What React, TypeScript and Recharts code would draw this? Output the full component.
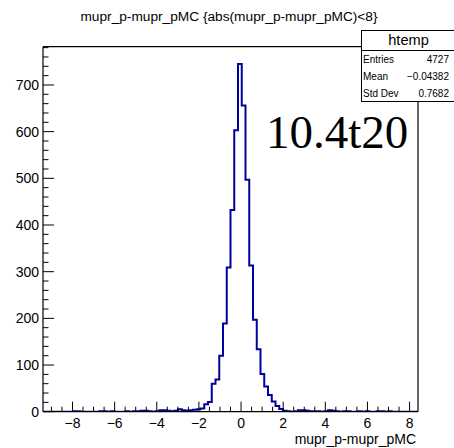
import React from "react";
import { LineChart, Line, XAxis, YAxis, ReferenceLine } from "recharts";

// histogram binning (ROOT htemp, 100 bins)
const xMin = -9.4;
const xMax = 8.4;
const binWidth = (xMax - xMin) / 100;

// bin contents, bin 0 .. bin 99
const counts: number[] = [
  0, 0, 0, 0, 0, 0, 0, 0, 1, 1,
  0, 0, 0, 0, 0, 1, 1, 0, 1, 0,
  0, 0, 1, 0, 1, 1, 2, 2, 1, 0,
  1, 3, 3, 2, 1, 2, 5, 3, 2, 3,
  4, 5, 7, 16, 21, 60, 69, 120, 189, 309,
  432, 603, 745, 656, 497, 313, 197, 134, 81, 54,
  36, 22, 12, 6, 2, 1, 0, 1, 3, 3,
  2, 1, 1, 1, 0, 1, 3, 2, 1, 0,
  1, 1, 0, 0, 1, 0, 1, 0, 0, 1,
  1, 0, 1, 0, 0, 0, 0, 0, 0, 0,
];

const xTicks: number[] = [
  -9, -8.5, -8, -7.5, -7, -6.5, -6, -5.5, -5, -4.5, -4, -3.5, -3, -2.5, -2, -1.5, -1, -0.5,
  0, 0.5, 1, 1.5, 2, 2.5, 3, 3.5, 4, 4.5, 5, 5.5, 6, 6.5, 7, 7.5, 8,
];
const yTicks: number[] = [
  0, 20, 40, 60, 80, 100, 120, 140, 160, 180, 200, 220, 240, 260, 280, 300, 320, 340, 360, 380,
  400, 420, 440, 460, 480, 500, 520, 540, 560, 580, 600, 620, 640, 660, 680, 700, 720, 740, 760, 780,
];
const yMax = 782;

const stats = [
  { label: "Entries", value: "4727" },
  { label: "Mean", value: "\u22120.04382" },
  { label: "Std Dev", value: "0.7682" },
];

const data = counts.map((c, i) => ({ x: xMin + i * binWidth, count: c }));
data.push({ x: xMax, count: 0 });

const font = "'Liberation Sans', Arial, Helvetica, sans-serif";

const fmt = (v: number) => (v < 0 ? "\u2212" + -v : String(v));

const XTick = (props: any) => {
  const { x, y, payload } = props;
  const v = payload.value;
  const major = Math.abs(v % 2) < 1e-6;
  return (
    <g>
      <line x1={x} x2={x} y1={y} y2={y - (major ? 10 : 5)} stroke="#000" strokeWidth={1} />
      {major && (
        <text x={x} y={y + 16} textAnchor="middle" fontSize={14} fontFamily={font} fill="#000">
          {fmt(v)}
        </text>
      )}
    </g>
  );
};

const YTick = (props: any) => {
  const { x, y, payload } = props;
  const v = payload.value;
  const major = v % 100 === 0;
  return (
    <g>
      <line x1={x} x2={x + (major ? 11 : 5.5)} y1={y} y2={y} stroke="#000" strokeWidth={1} />
      {major && (
        <text x={x - 4} y={y + 5} textAnchor="end" fontSize={14} fontFamily={font} fill="#000">
          {v}
        </text>
      )}
    </g>
  );
};

export default function App() {
  return (
    <div style={{ position: "relative", width: 454, height: 448, overflow: "hidden", background: "#fff" }}>
      <style>{"body{margin:0}"}</style>
      <LineChart
        width={454}
        height={448}
        data={data}
        margin={{ top: 46.7, right: 36, bottom: 0, left: 0 }}
      >
        <XAxis
          dataKey="x"
          type="number"
          domain={[xMin, xMax]}
          ticks={xTicks}
          interval={0}
          height={36.3}
          tickSize={0}
          tickMargin={0}
          tickLine={false}
          axisLine={false}
          tick={<XTick />}
          allowDataOverflow
        />
        <YAxis
          type="number"
          domain={[0, yMax]}
          ticks={yTicks}
          interval={0}
          width={43}
          tickSize={0}
          tickMargin={0}
          tickLine={false}
          axisLine={false}
          tick={<YTick />}
          allowDataOverflow
        />
        <Line
          type="stepAfter"
          dataKey="count"
          stroke="#00009a"
          strokeWidth={2}
          dot={false}
          activeDot={false}
          isAnimationActive={false}
        />
        <ReferenceLine y={0} stroke="#000" strokeWidth={1.2} />
        <ReferenceLine y={yMax} stroke="#000" strokeWidth={1.2} />
        <ReferenceLine x={xMin} stroke="#000" strokeWidth={1.2} />
        <ReferenceLine x={xMax} stroke="#000" strokeWidth={1.2} />
      </LineChart>

      <div
        style={{
          position: "absolute", left: 0, top: 9, width: 458, textAlign: "center",
          fontFamily: font, fontSize: 13.7, color: "#000", lineHeight: "16px",
        }}
      >
        mupr_p-mupr_pMC {"{abs(mupr_p-mupr_pMC)<8}"}
      </div>

      <div
        style={{
          position: "absolute", right: 38, top: 432, fontFamily: font, fontSize: 14,
          color: "#000", lineHeight: "14px",
        }}
      >
        mupr_p-mupr_pMC
      </div>

      <div
        style={{
          position: "absolute", left: 266, top: 108, fontFamily: "'Liberation Serif', 'Times New Roman', serif",
          fontSize: 47, color: "#000", lineHeight: "48px",
        }}
      >
        10.4t20
      </div>

      <div
        style={{
          position: "absolute", left: 361, top: 30, width: 100, height: 72,
          border: "1px solid #000", background: "#fff", fontFamily: font, boxSizing: "border-box",
        }}
      >
        <div
          style={{
            height: 20, borderBottom: "1px solid #000", width: 93, textAlign: "center",
            fontSize: 14.6, lineHeight: "19px", boxSizing: "border-box",
          }}
        >
          htemp
        </div>
        {stats.map((s) => (
          <div
            key={s.label}
            style={{
              display: "flex", justifyContent: "space-between", width: 86, paddingLeft: 1,
              height: 17, lineHeight: "17px", fontSize: 10,
            }}
          >
            <span>{s.label}</span>
            <span>{s.value}</span>
          </div>
        ))}
      </div>
    </div>
  );
}
